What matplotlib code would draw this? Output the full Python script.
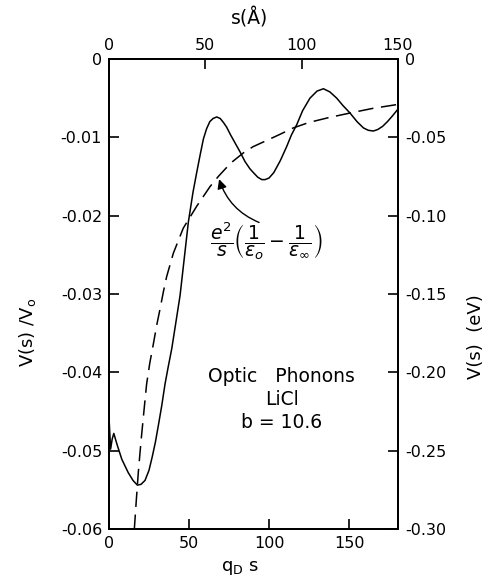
import numpy as np
import matplotlib
matplotlib.use('Agg')
import matplotlib.pyplot as plt

plt.rcParams['font.family'] = ['DejaVu Sans']
plt.rcParams['axes.unicode_minus'] = False
plt.rcParams['mathtext.fontset'] = 'dejavusans'

# data (x in q_D s, y in V(s)/V0)
solid_x = [0, 1.0, 2.0, 3.0, 5.0, 8.0, 12.0, 15.0, 17.7, 20.0, 22.5, 25.0, 27.0, 29.0,
           31.0, 33.0, 35.0, 37.0, 39.2, 41.5, 44.4, 47.0, 49.6, 52.5, 54.8, 57.0, 59.0,
           61.0, 63.0, 65.0, 67.3, 69.5, 71.5, 73.5, 76.0, 79.0, 82.0, 85.0, 88.0, 90.2,
           93.0, 95.5, 97.5, 100.0, 103.0, 107.0, 111.0, 114.0, 117.3, 121.0, 125.6, 130.0,
           134.0, 138.0, 142.3, 146.0, 150.6, 155.0, 159.0, 162.0, 165.2, 168.0, 171.0,
           174.0, 177.0, 180.6]
solid_y = [-0.0458, -0.0498, -0.0485, -0.0478, -0.0492, -0.0511, -0.0528, -0.0538, -0.0544,
           -0.0543, -0.0538, -0.0525, -0.0508, -0.0489, -0.0466, -0.0442, -0.0415, -0.0393,
           -0.0370, -0.0340, -0.0302, -0.0255, -0.0208, -0.0170, -0.0145, -0.0122, -0.0102,
           -0.0089, -0.0080, -0.0076, -0.0074, -0.0076, -0.0081, -0.0087, -0.0097, -0.0108,
           -0.0119, -0.0131, -0.0140, -0.0145, -0.0151, -0.0154, -0.0154, -0.0152, -0.0145,
           -0.0130, -0.0112, -0.0097, -0.0084, -0.0066, -0.0050, -0.0041, -0.0038, -0.0042,
           -0.0050, -0.0059, -0.0069, -0.0080, -0.0088, -0.0091, -0.0092, -0.0090, -0.0086,
           -0.0080, -0.0073, -0.0064]

dash_x = [15.8, 17.0, 18.3, 20.0, 21.8, 23.5, 25.5, 27.7, 29.8, 31.9, 34.0, 36.0, 40.2,
          46.4, 54.8, 63.1, 68.3, 76.0, 83.9, 90.0, 97.5, 106.0, 115.2, 125.0, 137.0,
          150.6, 165.0, 180.6]
dash_y = [-0.0601, -0.0565, -0.0528, -0.0488, -0.0450, -0.0415, -0.0388, -0.0364, -0.0340,
          -0.0319, -0.0297, -0.0278, -0.0248, -0.0216, -0.0188, -0.0163, -0.0150, -0.0133,
          -0.0120, -0.0112, -0.0105, -0.0097, -0.0088, -0.0081, -0.0075, -0.0069, -0.0063,
          -0.0058]

bottom_ticks = [0, 50, 100, 150]
top_ticks = [0, 50, 100, 150]
left_ticks = [0, -0.01, -0.02, -0.03, -0.04, -0.05, -0.06]
left_labels = ['0', '-0.01', '-0.02', '-0.03', '-0.04', '-0.05', '-0.06']
right_ticks = [0, -0.05, -0.10, -0.15, -0.20, -0.25, -0.30]
right_labels = ['0', '-0.05', '-0.10', '-0.15', '-0.20', '-0.25', '-0.30']

fig = plt.figure(figsize=(4.86, 5.81), dpi=100)
ax = fig.add_axes([0.2243, 0.0895, 0.5946, 0.809])

ax.plot(solid_x, solid_y, color='black', lw=1.1)
ax.plot(dash_x, dash_y, color='black', lw=1.1, dashes=(10, 5))

ax.set_xlim(0, 180.6)
ax.set_ylim(-0.06, 0)
ax.set_xticks(bottom_ticks)
ax.set_xticklabels([str(t) for t in bottom_ticks])
ax.set_yticks(left_ticks)
ax.set_yticklabels(left_labels)
ax.tick_params(direction='in', length=7, width=1.2, labelsize=11.5, pad=5)

# top axis in Angstrom
ax_top = ax.twiny()
ax_top.set_xlim(0, 150)
ax_top.set_xticks(top_ticks)
ax_top.set_xticklabels([str(t) for t in top_ticks])
ax_top.tick_params(direction='in', length=7, width=1.2, labelsize=11.5, pad=4)

# right axis in eV
ax_r = ax.twinx()
ax_r.set_ylim(-0.30, 0)
ax_r.set_yticks(right_ticks)
ax_r.set_yticklabels(right_labels)
ax_r.tick_params(direction='in', length=7, width=1.2, labelsize=11.5, pad=5)

for a in (ax, ax_top, ax_r):
    for sp in a.spines.values():
        sp.set_linewidth(1.2)

# annotation for the dashed curve
ax.annotate('', xy=(68.3, -0.0150), xytext=(95.4, -0.0210),
            arrowprops=dict(arrowstyle='-|>', color='black', lw=1.0,
                            mutation_scale=14,
                            connectionstyle='arc3,rad=-0.25'))
ax.text(98.1, -0.0232,
        r'$\dfrac{e^2}{s}\left(\dfrac{1}{\epsilon_o}-\dfrac{1}{\epsilon_\infty}\right)$',
        fontsize=13.5, ha='center', va='center')

ax.text(108, -0.0435, 'Optic   Phonons\nLiCl\nb = 10.6', fontsize=13.5,
        ha='center', va='center', linespacing=1.25)

# axis labels
fig.text(27 / 486, 1 - 332 / 581, r'V(s) /V$_\mathregular{o}$', rotation=90,
         ha='center', va='center', fontsize=13)
fig.text(476 / 486, 1 - 337 / 581, 'V(s)  (eV)', rotation=90,
         ha='center', va='center', fontsize=13)
fig.text(250 / 486, 1 - 18 / 581, 's(Å)', ha='center', va='center', fontsize=13.5)
fig.text(240 / 486, 1 - 568 / 581, r'q$_\mathregular{D}$ s', ha='center', va='center',
         fontsize=13)

fig.savefig('out.png', dpi=100)
